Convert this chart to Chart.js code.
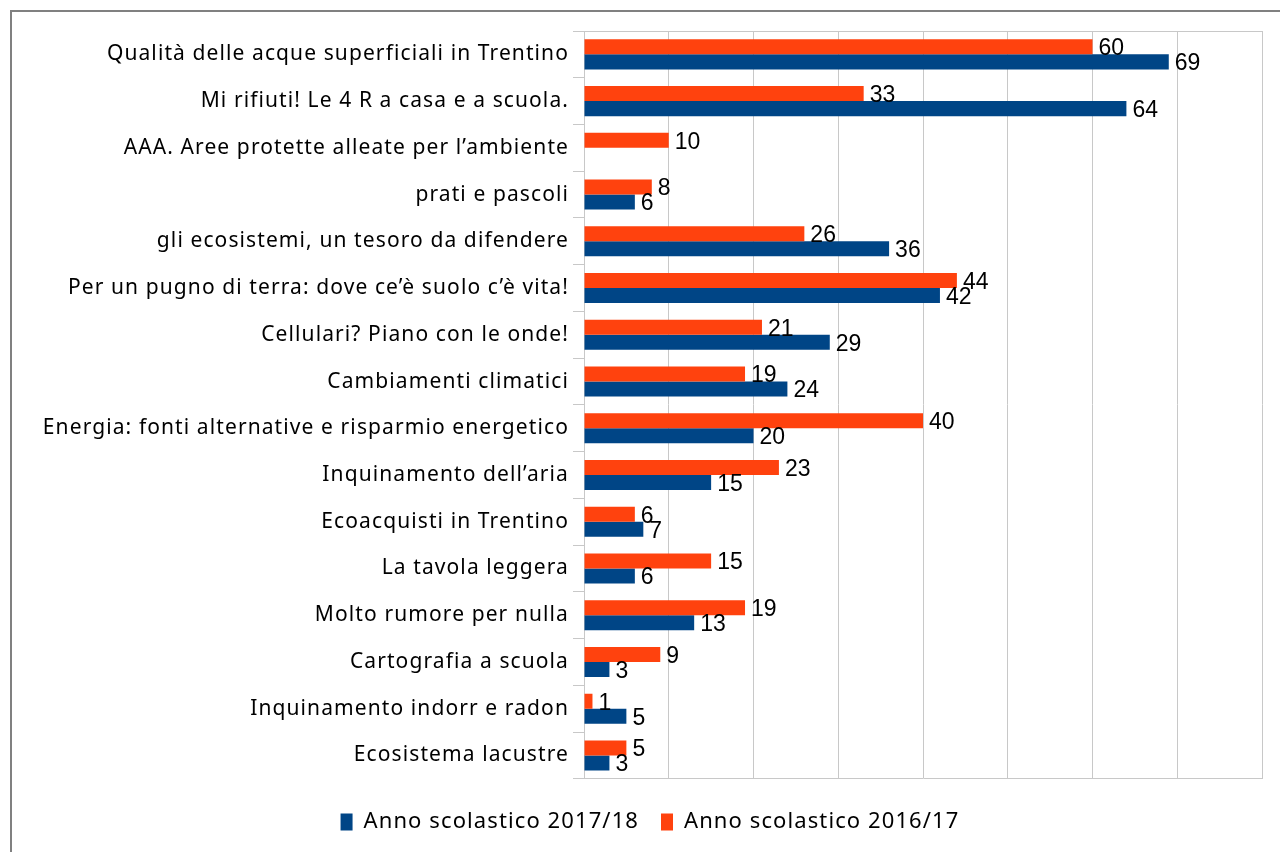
<!DOCTYPE html>
<html>
<head>
<meta charset="utf-8">
<script src="https://cdn.jsdelivr.net/npm/chart.js@4"></script>
<style>
  html, body { margin: 0; padding: 0; background: #fff; }
  #wrap { position: relative; width: 1280px; height: 852px; overflow: hidden; }
  #frame { position: absolute; left: 10px; top: 10px; width: 1300px; height: 900px;
           border-left: 2px solid #808080; border-top: 2px solid #808080; }
  canvas { position: absolute; left: 0; top: 0; }
</style>
</head>
<body>
<div id="wrap">
  <div id="frame"></div>
  <canvas id="chart" width="1280" height="852"></canvas>
</div>
<script>
const categories = [
  'Qualità delle acque superficiali in Trentino',
  'Mi rifiuti! Le 4 R a casa e a scuola.',
  'AAA. Aree protette alleate per l’ambiente',
  'prati e pascoli',
  'gli ecosistemi, un tesoro da difendere',
  'Per un pugno di terra: dove ce’è suolo c’è vita!',
  'Cellulari? Piano con le onde!',
  'Cambiamenti climatici',
  'Energia: fonti alternative e risparmio energetico',
  'Inquinamento dell’aria',
  'Ecoacquisti in Trentino',
  'La tavola leggera',
  'Molto rumore per nulla',
  'Cartografia a scuola',
  'Inquinamento indorr e radon',
  'Ecosistema lacustre'
];
const values201617 = [60, 33, 10, 8, 26, 44, 21, 19, 40, 23, 6, 15, 19, 9, 1, 5];
const values201718 = [69, 64, null, 6, 36, 42, 29, 24, 20, 15, 7, 6, 13, 3, 5, 3];
const xTicks = { min: 0, max: 80, step: 10 };

const TEXT_SPACING = '1.1px';
const PAD_LEFT = 38;

// the office-style text in the original is spaced out a little
const spacedText = {
  id: 'spacedText',
  beforeLayout(chart) { chart.ctx.letterSpacing = TEXT_SPACING; },
  beforeDraw(chart) { chart.ctx.letterSpacing = TEXT_SPACING; }
};

// writes the value just past the end of each bar
const barValueLabels = {
  id: 'barValueLabels',
  afterDatasetsDraw(chart) {
    const ctx = chart.ctx;
    ctx.save();
    ctx.letterSpacing = '0px';
    ctx.font = '23px "Liberation Sans", Arial, sans-serif';
    ctx.fillStyle = '#000';
    ctx.textAlign = 'left';
    ctx.textBaseline = 'middle';
    chart.data.datasets.forEach((ds, i) => {
      chart.getDatasetMeta(i).data.forEach((bar, j) => {
        const v = ds.data[j];
        if (v === null || v === undefined) return;
        ctx.fillText(String(v), bar.x + 6, bar.y + 2);
      });
    });
    ctx.restore();
  }
};

// thin line along the top of the plot area
const plotTopLine = {
  id: 'plotTopLine',
  beforeDatasetsDraw(chart) {
    const { ctx, chartArea } = chart;
    ctx.save();
    ctx.strokeStyle = '#c8c8c8';
    ctx.lineWidth = 1;
    ctx.beginPath();
    ctx.moveTo(chartArea.left, chartArea.top + 0.5);
    ctx.lineTo(chartArea.right, chartArea.top + 0.5);
    ctx.stroke();
    ctx.restore();
  }
};

new Chart(document.getElementById('chart'), {
  type: 'bar',
  data: {
    labels: categories,
    datasets: [
      {
        label: 'Anno scolastico 2016/17',
        data: values201617,
        backgroundColor: '#ff420e',
        categoryPercentage: 0.643,
        barPercentage: 1.0
      },
      {
        label: 'Anno scolastico 2017/18',
        data: values201718,
        backgroundColor: '#004586',
        categoryPercentage: 0.643,
        barPercentage: 1.0
      }
    ]
  },
  options: {
    indexAxis: 'y',
    responsive: false,
    animation: false,
    layout: { padding: { top: 31, right: 18, bottom: 9, left: PAD_LEFT } },
    plugins: {
      tooltip: { enabled: false },
      legend: {
        position: 'bottom',
        reverse: true,
        title: { display: true, text: ' ', font: { size: 1 }, padding: { top: 0, bottom: 9 } },
        labels: {
          color: '#000',
          font: { family: '"Noto Sans", sans-serif', size: 22 },
          boxWidth: 12,
          boxHeight: 17,
          padding: 22
        }
      }
    },
    scales: {
      x: {
        min: xTicks.min,
        max: xTicks.max,
        ticks: { stepSize: xTicks.step, display: false },
        grid: { color: '#c8c8c8', drawTicks: false },
        border: { color: '#c8c8c8' }
      },
      y: {
        afterFit(scale) { scale.width = 584 - PAD_LEFT; },
        ticks: {
          color: '#000',
          font: { family: '"Noto Sans", sans-serif', size: 21 },
          padding: 4
        },
        grid: { drawOnChartArea: false, color: '#c8c8c8', tickLength: 11, offset: true },
        border: { color: '#c8c8c8' }
      }
    }
  },
  plugins: [spacedText, barValueLabels, plotTopLine]
});
</script>
</body>
</html>
